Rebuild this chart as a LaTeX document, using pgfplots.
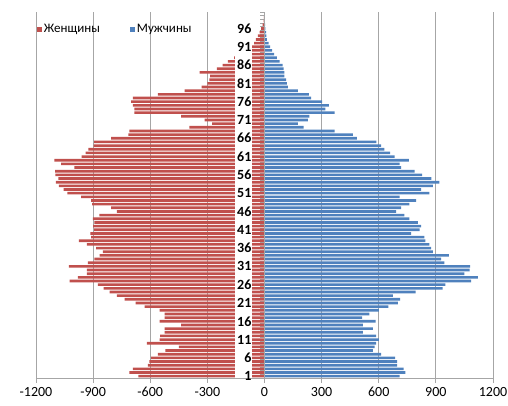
\documentclass[border=0pt]{standalone}
\usepackage{fontspec}
\setmainfont{Carlito}
\usepackage{pgfplots}
\usepackage{pgfplotstable}
\pgfplotsset{compat=1.18}
\definecolor{womenred}{HTML}{C0504D}
\definecolor{menblue}{HTML}{4F81BD}
\definecolor{gridgray}{HTML}{A6A6A6}

\pgfplotstableread{
age w m
1 -662 709
2 -709 740
3 -691 730
4 -613 697
5 -604 697
6 -595 686
7 -560 613
8 -520 569
9 -450 578
10 -618 586
11 -551 600
12 -548 586
13 -525 516
14 -525 569
15 -438 516
16 -551 583
17 -525 513
18 -525 551
19 -551 600
20 -630 650
21 -677 700
22 -735 712
23 -775 674
24 -814 793
25 -845 936
26 -875 950
27 -1024 1085
28 -980 1120
29 -933 1050
30 -933 1077
31 -1027 1080
32 -928 945
33 -893 928
34 -866 968
35 -849 884
36 -884 875
37 -933 866
38 -975 845
39 -910 840
40 -915 770
41 -895 814
42 -900 823
43 -893 805
44 -901 761
45 -867 735
46 -775 691
47 -805 718
48 -905 761
49 -910 796
50 -963 709
51 -1035 866
52 -1055 823
53 -1080 884
54 -1096 919
55 -1082 876
56 -1098 828
57 -1100 788
58 -998 718
59 -1068 709
60 -1103 758
61 -960 683
62 -940 660
63 -925 630
64 -898 613
65 -895 587
66 -805 485
67 -715 464
68 -710 368
69 -394 205
70 -275 175
71 -315 228
72 -438 236
73 -683 368
74 -683 320
75 -691 338
76 -700 303
77 -691 245
78 -560 233
79 -420 175
80 -330 123
81 -300 117
82 -290 114
83 -285 105
84 -341 105
85 -250 100
86 -220 95
87 -193 80
88 -160 65
89 -130 50
90 -100 40
91 -70 30
92 -55 22
93 -45 12
94 -35 10
95 -25 8
96 -18 5
97 -10 3
98 -5 2
99 -3 1
100 -2 1
}\data

\begin{document}
\begin{tikzpicture}
\begin{axis}[
  scale only axis,
  width=457pt, height=366pt,
  xmin=-1200, xmax=1200,
  ymin=0.5, ymax=100.5,
  xbar, bar width=0.72, bar shift=0pt,
  axis x line=bottom,
  axis y line=left,
  axis line style={-, draw=gridgray, line width=0.8pt},
  xtick={-1200,-900,-600,-300,0,300,600,900,1200},
  xticklabels={-1200,-900,-600,-300,0,300,600,900,1200},
  ytick=\empty,
  xmajorgrids,
  grid style={draw=gridgray, line width=0.8pt},
  tick style={draw=gridgray, line width=0.8pt},
  major tick length=5pt,
  xtick align=outside,
  xticklabel style={font=\fontsize{14}{16}\selectfont, text=black, yshift=-1pt},
  legend columns=2,
  legend style={draw=none, fill=none, font=\fontsize{13}{15}\selectfont,
    at={(rel axis cs:-0.005,0.953)}, anchor=west,
    /tikz/every even column/.append style={column sep=28pt}},
  legend image code/.code={\fill[#1] (0pt,-2.5pt) rectangle (5pt,2.5pt);},
  clip=false,
]
\pgfplotsinvokeforeach{0,...,100}{\draw[gridgray, line width=0.6pt] (axis cs:0,#1+0.5) -- ++(-5pt,0pt);}
\addplot[fill=womenred, draw=none] table[x=w, y=age] {\data};
\addplot[fill=menblue, draw=none] table[x=m, y=age] {\data};
\fill[white] (axis cs:-155,0.5) rectangle (axis cs:-68,100.5);
\draw[gridgray, line width=0.8pt] (axis cs:0,0.5) -- (axis cs:0,100.5);
\pgfplotsinvokeforeach{1,6,11,16,21,26,31,36,41,46,51,56,61,66,71,76,81,86,91,96}{
  \node[anchor=east, inner sep=0pt, font=\bfseries\fontsize{14}{16}\selectfont] at (axis cs:-68,#1) {#1};}
\legend{Женщины, Мужчины}
\end{axis}
\pgfresetboundingbox
\useasboundingbox (-36pt,-27pt) rectangle (472pt,378pt);
\end{tikzpicture}
\end{document}
